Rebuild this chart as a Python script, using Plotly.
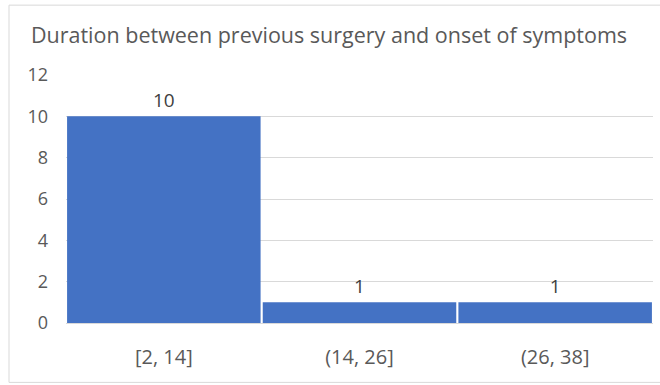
import plotly.graph_objects as go

# Histogram bins and counts
bins = ["[2, 14]", "(14, 26]", "(26, 38]"]
counts = [10, 1, 1]
y_ticks = [0, 2, 4, 6, 8, 10, 12]

title_text = "Duration between previous surgery and onset of symptoms"

fig = go.Figure(
    go.Bar(
        x=bins,
        y=counts,
        text=[str(c) for c in counts],
        textposition="outside",
        textfont=dict(family="Open Sans", size=19, color="#404040"),
        marker=dict(color="#4472C4", line=dict(width=0)),
        cliponaxis=False,
    )
)

W, H = 660, 385
ml, mr, mt, mb = 66, 7, 75, 61.5
pw, ph = W - ml - mr, H - mt - mb

def px_x(x):
    return (x - ml) / pw

def px_y(y):
    return (H - mb - y) / ph

fig.update_layout(
    width=W,
    height=H,
    margin=dict(l=ml, r=mr, t=mt, b=mb, pad=0),
    paper_bgcolor="white",
    plot_bgcolor="white",
    bargap=0.011,
    showlegend=False,
    title=dict(
        text=title_text,
        x=329 / W,
        xref="container",
        xanchor="center",
        y=1 - 35 / H,
        yanchor="middle",
        font=dict(family="Open Sans", size=21.5, color="#595959"),
    ),
    xaxis=dict(
        type="category",
        showgrid=False,
        showline=False,
        ticks="",
        tickfont=dict(family="Open Sans", size=20, color="#595959"),
        ticklabelstandoff=20,
    ),
    yaxis=dict(
        range=[0, 12],
        tickvals=y_ticks,
        showgrid=True,
        gridcolor="#D9D9D9",
        gridwidth=1,
        zeroline=True,
        zerolinecolor="#D9D9D9",
        zerolinewidth=1,
        showline=False,
        ticks="",
        tickfont=dict(family="Open Sans", size=18, color="#595959"),
        ticklabelstandoff=17,
    ),
    shapes=[
        dict(
            type="rect",
            xref="paper",
            yref="paper",
            x0=px_x(9),
            x1=px_x(664),
            y0=px_y(383),
            y1=px_y(5),
            line=dict(color="#D9D9D9", width=1),
            fillcolor="rgba(0,0,0,0)",
            layer="below",
        )
    ],
)

fig.write_html("out.html")
